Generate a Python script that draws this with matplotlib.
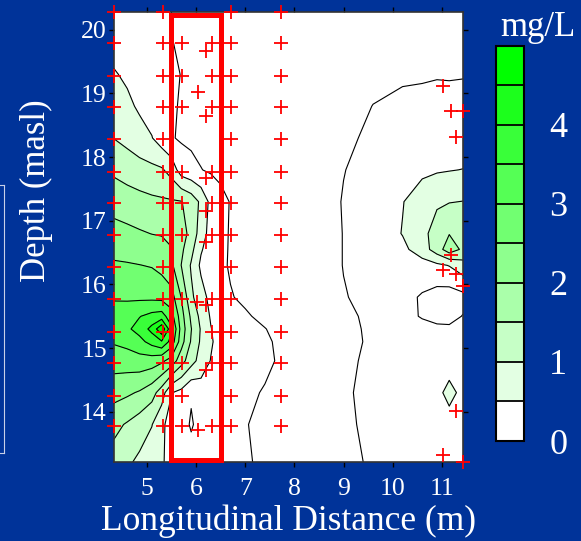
import matplotlib
matplotlib.use("Agg")
import matplotlib.pyplot as plt
import numpy as np
from matplotlib.colors import ListedColormap
from matplotlib.patches import Rectangle
from matplotlib.lines import Line2D

plt.rcParams['font.family'] = ['Liberation Serif', 'DejaVu Serif']

# concentration (mg/L), rows top -> bottom
grid_x = [4.33, 4.6, 4.85, 5.1, 5.3, 5.5, 5.7, 5.9, 6.1, 6.3, 6.5, 6.7,
          7.0, 7.4, 7.8, 8.4, 9.0, 9.6, 10.2, 10.6, 10.9, 11.15, 11.43]
grid_y = [20.28, 19.8, 19.3, 18.8, 18.3, 17.8, 17.3, 16.8, 16.55, 16.3,
          15.8, 15.5, 15.3, 15.1, 14.8, 14.3, 13.8, 13.21]
conc = [
    [0.12, 0.10, 0.08, 0.05, 0.03, 0.00, -0.03, -0.05, -0.08, -0.10, -0.12, -0.15, -0.20, -0.25, -0.30, -0.30, -0.25, -0.15, -0.10, -0.07, -0.05, -0.03, -0.02],
    [0.32, 0.27, 0.22, 0.15, 0.08, 0.01, -0.04, -0.06, -0.08, -0.10, -0.12, -0.15, -0.20, -0.25, -0.30, -0.30, -0.25, -0.15, -0.08, -0.05, -0.03, -0.02, -0.02],
    [0.54, 0.42, 0.33, 0.23, 0.15, 0.07, -0.01, -0.05, -0.08, -0.10, -0.12, -0.15, -0.20, -0.25, -0.30, -0.30, -0.25, -0.15, -0.05, -0.04, -0.02, -0.02, -0.01],
    [0.78, 0.60, 0.43, 0.28, 0.17, 0.06, -0.04, -0.07, -0.10, -0.12, -0.14, -0.17, -0.22, -0.28, -0.32, -0.30, -0.22, 0.01, 0.08, 0.10, 0.10, 0.08, 0.06],
    [0.99, 0.85, 0.68, 0.52, 0.25, 0.03, -0.05, -0.08, -0.10, -0.12, -0.14, -0.18, -0.22, -0.28, -0.30, -0.25, -0.10, 0.10, 0.15, 0.20, 0.22, 0.22, 0.22],
    [1.41, 1.30, 1.20, 1.12, 1.06, 0.80, 0.25, 0.12, 0.01, -0.05, -0.10, -0.15, -0.20, -0.27, -0.30, -0.28, -0.01, 0.12, 0.25, 0.40, 0.45, 0.48, 0.51],
    [1.80, 1.72, 1.66, 1.60, 1.57, 1.55, 1.52, 1.30, 0.90, 0.35, 0.12, -0.02, -0.10, -0.20, -0.25, -0.20, 0.02, 0.15, 0.48, 0.75, 0.95, 0.98, 1.01],
    [2.18, 2.12, 2.05, 1.99, 1.97, 1.90, 1.70, 1.35, 0.75, 0.30, 0.10, -0.03, -0.12, -0.22, -0.28, -0.22, 0.01, 0.15, 0.52, 0.90, 1.15, 1.48, 1.30],
    [2.37, 2.33, 2.28, 2.22, 2.15, 2.02, 1.60, 1.15, 0.55, 0.25, 0.08, -0.03, -0.12, -0.22, -0.28, -0.22, 0.01, 0.14, 0.38, 0.75, 1.25, 1.78, 1.40],
    [2.56, 2.54, 2.51, 2.47, 2.35, 2.10, 1.49, 0.95, 0.40, 0.20, 0.06, -0.03, -0.12, -0.22, -0.28, -0.22, 0.01, 0.12, 0.25, 0.30, 0.40, 0.52, 0.80],
    [2.95, 2.92, 2.90, 2.88, 2.85, 2.70, 1.98, 1.10, 0.70, 0.35, 0.10, 0.02, -0.06, -0.20, -0.28, -0.25, -0.02, 0.10, 0.15, -0.05, -0.20, -0.25, -0.15],
    [3.20, 3.30, 3.48, 3.65, 3.72, 3.20, 2.20, 1.40, 0.85, 0.45, 0.20, 0.08, 0.04, -0.08, -0.20, -0.25, -0.10, 0.10, 0.12, -0.03, -0.15, -0.15, 0.02],
    [3.30, 3.42, 3.68, 4.15, 4.90, 3.60, 2.30, 1.52, 0.95, 0.52, 0.28, 0.15, 0.08, 0.01, -0.12, -0.22, -0.12, 0.08, 0.15, 0.12, 0.10, 0.08, 0.08],
    [3.05, 3.15, 3.35, 3.68, 3.95, 3.30, 2.20, 1.45, 0.92, 0.56, 0.30, 0.18, 0.12, 0.03, -0.05, -0.20, -0.15, 0.08, 0.15, 0.12, 0.10, 0.10, 0.10],
    [2.72, 2.75, 2.80, 2.75, 2.60, 2.30, 1.70, 1.20, 0.80, 0.48, 0.30, 0.20, 0.15, 0.08, -0.08, -0.20, -0.15, 0.15, 0.15, 0.15, 0.15, 0.15, 0.15],
    [2.18, 2.08, 1.95, 1.70, 1.25, 0.52, 0.35, 0.03, 0.25, 0.22, 0.20, 0.15, 0.08, -0.03, -0.10, -0.20, -0.05, 0.10, 0.15, 0.20, 0.30, 0.72, 0.30],
    [1.63, 1.45, 1.25, 1.02, 0.60, 0.30, 0.12, -0.03, 0.10, 0.15, 0.15, 0.12, 0.01, -0.05, -0.12, -0.20, -0.08, 0.10, 0.15, 0.15, 0.15, 0.20, 0.15],
    [1.30, 1.08, 0.90, 0.70, 0.55, 0.35, 0.20, 0.12, 0.10, 0.10, 0.10, 0.08, 0.03, -0.05, -0.12, -0.20, -0.10, 0.05, 0.10, 0.10, 0.10, 0.10, 0.10],
]

# sampling locations (red crosses)
row_y = [20.28, 19.79, 19.27, 18.78, 18.29, 17.77, 17.28, 16.77, 16.27,
         15.77, 15.26, 14.77, 14.25, 13.77]
col_x = [4.33, 5.32, 5.72, 6.32, 6.71, 7.72]
col_rows = [
    row_y,
    row_y,
    [19.79, 19.27, 18.78, 17.77, 17.28, 16.77, 15.77, 14.77, 14.25, 13.77],
    [19.79, 19.27, 18.78, 17.77, 17.28, 16.77, 15.77, 15.26, 14.77, 13.77],
    row_y,
    row_y,
]
extra_x = [6.20, 6.03, 6.20, 6.20, 6.20, 6.20, 6.02, 6.20, 6.20, 6.03,
           11.02, 11.19, 11.44, 11.29, 11.19, 11.02, 11.29, 11.44, 11.29, 11.02, 11.44]
extra_y = [19.66, 19.03, 18.65, 17.67, 17.16, 16.66, 15.73, 15.67, 14.65, 13.71,
           19.12, 18.72, 18.72, 18.32, 16.46, 16.23, 16.16, 15.98, 14.01, 13.32, 13.21]

levels = np.arange(0, 5.01, 0.5)
shades = [1 - i / 9 for i in range(10)]
cmap = ListedColormap([(s, 1, s) for s in shades])
bg = '#003399'

fig = plt.figure(figsize=(5.81, 5.41), dpi=100)
fig.patch.set_facecolor(bg)
ax = fig.add_axes([0.1962, 0.1460, 0.6007, 0.8318])
ax.set_facecolor('white')

X, Y = np.meshgrid(grid_x, grid_y)
Z = np.array(conc)
cf = ax.contourf(X, Y, Z, levels=levels, cmap=cmap)
ax.contour(X, Y, Z, levels=levels[:-1], colors='black', linewidths=0.8)

px, py = [], []
for x, ys in zip(col_x, col_rows):
    px += [x] * len(ys)
    py += ys
px += extra_x
py += extra_y
ax.plot(px, py, '+', color='red', ms=9.5, mew=1.3, clip_on=False, zorder=5)

ax.add_patch(Rectangle((5.49, 13.24), 1.02, 7.0, fill=False, edgecolor='red',
                       lw=3.6, clip_on=False, zorder=6))

ax.set_xlim(4.33, 11.43)
ax.set_ylim(13.21, 20.28)
ax.set_xticks(range(5, 12))
ax.set_yticks(range(14, 21))
ax.tick_params(direction='out', length=3.6, width=1, top=True, right=True,
               color='black', labelcolor='white', labelsize=18.5)
ax.tick_params(axis='y', pad=1.5)
ax.tick_params(axis='x', pad=8)
for s in ax.spines.values():
    s.set_color('#333333')
    s.set_linewidth(1.2)

ax.set_xlabel('Longitudinal Distance (m)', color='white', fontsize=25.5, labelpad=3)
ax.set_ylabel('Depth (masl)', color='white', fontsize=25)
ax.yaxis.set_label_coords(-0.175, 0.604)

cax = fig.add_axes([0.8532, 0.1848, 0.0492, 0.7307])
cb = fig.colorbar(cf, cax=cax, ticks=[0, 1, 2, 3, 4], drawedges=True)
cb.outline.set_edgecolor('black')
cb.outline.set_linewidth(1.5)
cb.dividers.set_color('black')
cb.dividers.set_linewidth(1.3)
cax.tick_params(length=0, labelcolor='white', labelsize=26, pad=18)
fig.text(0.925, 0.950, 'mg/L', color='white', fontsize=25, ha='center', va='center')

fig.add_artist(Line2D([0.0069, 0.0069], [0.163, 0.658], color='#c8d0e8', lw=0.8))
fig.add_artist(Line2D([0.0, 0.0069], [0.658, 0.658], color='#c8d0e8', lw=0.8))
fig.add_artist(Line2D([0.0, 0.0069], [0.163, 0.163], color='#c8d0e8', lw=0.8))

fig.savefig('out.png', dpi=100, facecolor=fig.get_facecolor())
